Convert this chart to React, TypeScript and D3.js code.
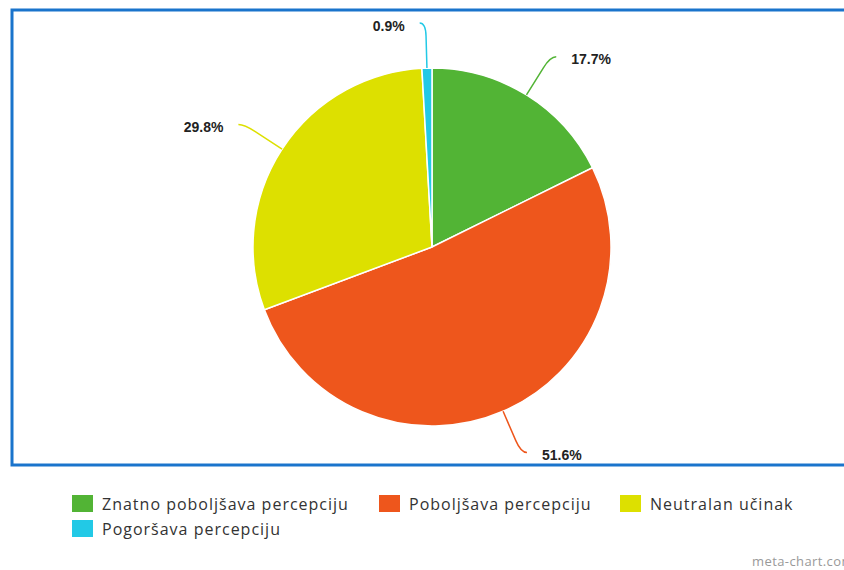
import React from "react";
import * as d3 from "d3";

const categories = [
  "Znatno poboljšava percepciju",
  "Poboljšava percepciju",
  "Neutralan učinak",
  "Pogoršava percepciju",
];
const values = [17.7, 51.6, 29.8, 0.9];
const labels = ["17.7%", "51.6%", "29.8%", "0.9%"];
const colors = ["#52b435", "#ee561c", "#dde000", "#22c9e6"];

const W = 844;
const H = 570;
const cx = 432;
const cy = 247;
const R = 179;

export default function App() {
  const pie = d3
    .pie<number>()
    .sort(null)
    .value((d) => d)
    .startAngle(0)
    .endAngle(2 * Math.PI);
  const arcs = pie(values);
  const arcGen = d3.arc<d3.PieArcDatum<number>>().innerRadius(0).outerRadius(R);

  const pt = (a: number, r: number) => [Math.sin(a) * r, -Math.cos(a) * r];

  const legendRows = [
    [0, 1, 2],
    [3],
  ];
  const legendX = [72, 379, 620];

  return (
    <div style={{ position: "absolute", left: 0, top: 0 }}>
      <svg width={W} height={H} style={{ display: "block", background: "#fff" }}>
        <rect x={12} y={10} width={W} height={455} fill="#fff" stroke="#1a74cc" strokeWidth={3} />
        <g transform={`translate(${cx},${cy})`}>
          {arcs.map((a, i) => (
            <path key={i} d={arcGen(a) || ""} fill={colors[i]} stroke="#fff" strokeWidth={1.5} />
          ))}
          {arcs.map((a, i) => {
            const mid = (a.startAngle + a.endAngle) / 2;
            const side = Math.sin(mid) >= 0 ? 1 : -1;
            const p0 = pt(mid, R);
            const pa = pt(mid, R + 32);
            const p1 = pt(mid, R + 45);
            const p2 = [p1[0] + side * 6, p1[1]];
            const d = `M${p0[0]},${p0[1]}L${pa[0]},${pa[1]}Q${p1[0]},${p1[1]} ${p2[0]},${p2[1]}`;
            return (
              <g key={"l" + i}>
                <path d={d} fill="none" stroke={colors[i]} strokeWidth={1.5} />
                <text
                  x={p2[0] + side * 15}
                  y={p2[1] + 7.5}
                  textAnchor={side > 0 ? "start" : "end"}
                  fontFamily="Liberation Sans, Arial, sans-serif"
                  fontWeight="bold"
                  fontSize={14}
                  fill="#222"
                >
                  {labels[i]}
                </text>
              </g>
            );
          })}
        </g>
        <g fontFamily="Open Sans, sans-serif" fontSize={16} fill="#333" letterSpacing={1}>
          {legendRows.map((row, ri) =>
            row.map((idx, ci) => (
              <g key={idx} transform={`translate(${legendX[ci]},${495 + ri * 25})`}>
                <rect x={0} y={0} width={21} height={17} fill={colors[idx]} />
                <text x={30} y={15}>
                  {categories[idx]}
                </text>
              </g>
            ))
          )}
        </g>
        <text x={752} y={566} fontFamily="Open Sans, sans-serif" fontSize={13} fill="#999" letterSpacing={0.4}>
          meta-chart.com
        </text>
      </svg>
    </div>
  );
}
